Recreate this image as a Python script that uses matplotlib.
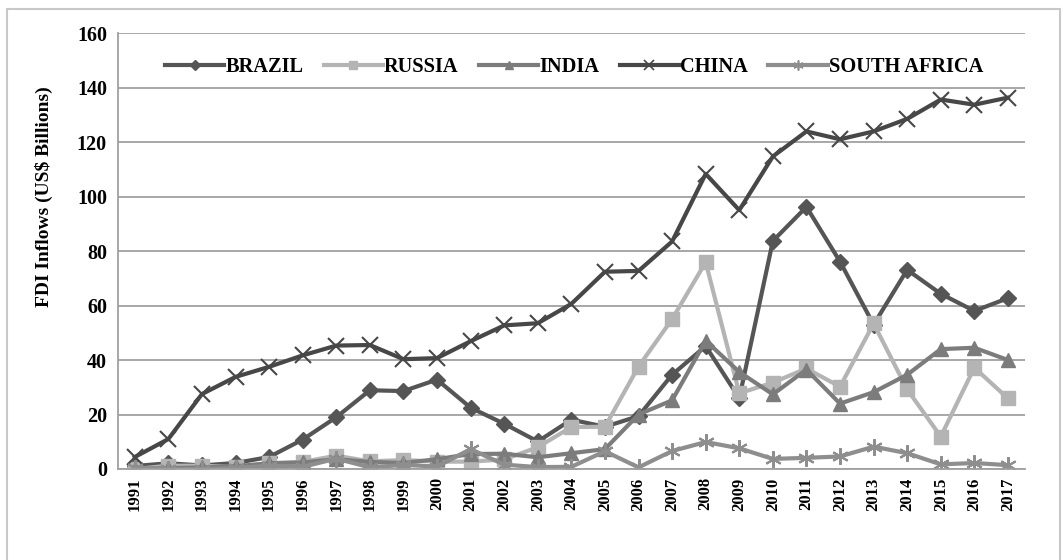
import matplotlib.pyplot as plt
from matplotlib.patches import Rectangle
from matplotlib.lines import Line2D

years = [str(y) for y in range(1991, 2018)]

brazil = [1.1, 2.1, 1.3, 2.2, 4.4, 10.8, 19.0, 28.9, 28.6, 32.8, 22.5, 16.6, 10.1,
          18.1, 15.5, 19.4, 34.6, 45.1, 26.0, 83.7, 96.2, 76.1, 53.0, 73.1, 64.3, 58.0, 62.7]
russia = [0.0, 1.2, 1.2, 0.7, 2.1, 2.6, 4.9, 2.8, 3.3, 2.7, 2.7, 3.5, 8.0,
          15.4, 15.5, 37.6, 55.0, 75.9, 27.8, 31.7, 36.9, 30.2, 53.4, 29.2, 11.9, 37.2, 25.9]
india = [0.1, 0.3, 0.6, 1.0, 2.1, 2.4, 3.6, 2.6, 2.2, 3.6, 5.5, 5.6, 4.3,
         5.8, 7.3, 20.0, 25.2, 47.1, 35.6, 27.4, 36.5, 24.0, 28.2, 34.6, 44.0, 44.5, 40.0]
china = [4.4, 11.0, 27.5, 33.8, 37.5, 41.7, 45.3, 45.5, 40.3, 40.7, 46.9, 52.7, 53.5,
         60.6, 72.4, 72.7, 83.5, 108.3, 95.0, 114.7, 123.9, 121.0, 123.9, 128.5, 135.6, 133.7, 136.3]
south_africa = [0.3, 0.0, 0.0, 0.4, 1.2, 0.8, 3.8, 0.6, 1.5, 0.9, 7.3, 1.6, 0.7,
                0.8, 6.5, 0.6, 6.6, 9.9, 7.6, 3.7, 4.1, 4.6, 8.2, 5.8, 1.7, 2.2, 1.4]

series = [
  ('BRAZIL', brazil, '#555555', 'D', 8),
  ('RUSSIA', russia, '#b4b4b4', 's', 10),
  ('INDIA', india, '#7c7c7c', '^', 10),
  ('CHINA', china, '#474747', 'x', 11),
  ('SOUTH AFRICA', south_africa, '#8e8e8e', (6, 2, 0), 12),
]

plt.rcParams['font.family'] = ['Liberation Serif', 'DejaVu Serif']

fig = plt.figure(figsize=(10.63, 5.6), dpi=100)
fig.patches.append(Rectangle((0.007, -0.01), 0.99, 0.994, transform=fig.transFigure,
                             fill=False, edgecolor='#c8c8c8', linewidth=1.5))
ax = fig.add_axes([0.111, 0.1625, 0.853, 0.7785])

x = list(range(len(years)))
handles = []
for name, vals, col, mk, ms in series:
  thick = mk in ('x', (6, 2, 0))
  ax.plot(x, vals, color=col, marker=mk, markersize=ms, linewidth=3,
          markeredgewidth=1.5 if thick else 1)
  # smaller markers in the legend, like the original
  handles.append(Line2D([], [], color=col, marker=mk, markersize=ms * 0.6, linewidth=3,
                        markeredgewidth=1.2 if thick else 1, label=name))

ax.set_xlim(-0.5, len(years) - 0.5)
ax.set_ylim(0, 160)
ax.set_yticks(range(0, 161, 20))
ax.set_xticks(x)
ax.set_xticklabels(years, rotation=90, fontsize=12, fontweight='bold')
for lab in ax.get_yticklabels():
  lab.set_fontweight('bold')
ax.tick_params(axis='y', labelsize=14.5, length=0, pad=8)
ax.tick_params(axis='x', length=0, pad=6)
ax.yaxis.grid(True, color='#a0a0a0', linewidth=1.3)
ax.set_axisbelow(True)
for s in ('top', 'right'):
  ax.spines[s].set_visible(False)
for s in ('left', 'bottom'):
  ax.spines[s].set_color('#a0a0a0')
  ax.spines[s].set_linewidth(1.3)

ax.set_ylabel('FDI Inflows (US$ Billions)', fontsize=14, fontweight='bold', labelpad=6)
ax.yaxis.set_label_coords(-0.072, 0.624)

ax.legend(handles=handles, loc='center', bbox_to_anchor=(0.503, 0.922), ncol=5, frameon=False,
          prop={'size': 14.7, 'weight': 'bold'}, handlelength=2.9, handletextpad=0.05,
          columnspacing=1.0)

fig.savefig('out.png', dpi=100)
